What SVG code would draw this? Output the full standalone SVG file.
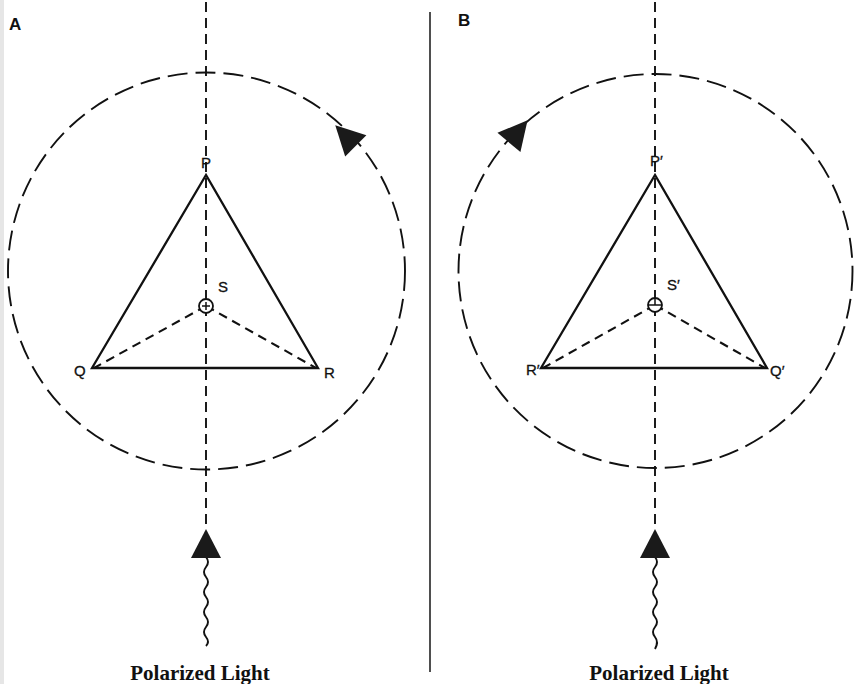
<svg xmlns="http://www.w3.org/2000/svg" xmlns:xlink="http://www.w3.org/1999/xlink" width="856" height="684" viewBox="0 0 856 684">
<style>
.solid{stroke:#111;stroke-width:2.3;fill:none;stroke-linecap:round}
.axis{stroke:#111;stroke-width:1.9;fill:none;stroke-dasharray:10 6}
.orbit{stroke:#111;stroke-width:1.9;fill:none;stroke-dasharray:20 8}
.spoke{stroke:#111;stroke-width:2.1;fill:none;stroke-dasharray:9 6}
.wave{stroke:#111;stroke-width:1.9;fill:none}
.lbl{font-family:"Liberation Sans",Arial,sans-serif;font-size:15px;fill:#111;stroke:#111;stroke-width:0.3}
.panel{font-family:"Liberation Sans",Arial,sans-serif;font-size:17px;font-weight:bold;fill:#111}
.cap{font-family:"Liberation Serif","Times New Roman",serif;font-size:21px;font-weight:bold;fill:#111;text-anchor:middle}
.head{fill:#1a1a1a}
</style>
<defs>
<polygon id="tri" points="0,-18 15,11 -15,11"/>
</defs>
<rect width="856" height="684" fill="#fff"/>
<rect x="0" y="0" width="4" height="684" fill="#e6e6e6"/>
<line x1="430" y1="12" x2="430" y2="672" stroke="#222" stroke-width="1.6"/>

<g id="panelA">
<text class="panel" x="9" y="30">A</text>
<g id="connectorsA">
<line class="axis" x1="206" y1="2" x2="206" y2="530"/>
<circle class="orbit" cx="206.5" cy="271" r="198.5"/>
<line class="spoke" x1="206" y1="306" x2="94" y2="368"/>
<line class="spoke" x1="206" y1="306" x2="316" y2="368"/>
<path class="wave" d="M206,557 q4,5 0,10 t0,10 t0,10 t0,10 t0,10 t0,10 t0,10 t0,10 t0,9"/>
<use href="#tri" class="head" transform="translate(348,138) rotate(-45)"/>
<use href="#tri" class="head" transform="translate(206,547)"/>
</g>
<g id="triA"><polygon class="solid" points="206,175 92,368 318,368"/></g>
<g id="S"><circle cx="206" cy="306" r="7" fill="#fff" stroke="#111" stroke-width="1.8"/><line x1="202" y1="306" x2="210" y2="306" stroke="#111" stroke-width="1.5"/><line x1="206" y1="302" x2="206" y2="310" stroke="#111" stroke-width="1.5"/>
<text class="lbl" x="218" y="292">S</text></g>
<g id="P"><text class="lbl" x="201" y="168">P</text></g>
<g id="Q"><text class="lbl" x="74" y="376">Q</text></g>
<g id="R"><text class="lbl" x="324" y="378">R</text></g>
<text class="cap" x="200" y="680">Polarized Light</text>
</g>

<g id="panelB">
<text class="panel" x="458" y="26">B</text>
<g id="connectorsB">
<line class="axis" x1="655" y1="2" x2="655" y2="530"/>
<circle class="orbit" cx="655.5" cy="271" r="197"/>
<line class="spoke" x1="655" y1="305" x2="543" y2="368"/>
<line class="spoke" x1="655" y1="305" x2="765" y2="368"/>
<path class="wave" d="M655,557 q4,5 0,10 t0,10 t0,10 t0,10 t0,10 t0,10 t0,10 t0,10 t0,12"/>
<use href="#tri" class="head" transform="translate(516,134) rotate(40)"/>
<use href="#tri" class="head" transform="translate(655,547)"/>
</g>
<g id="triB"><polygon class="solid" points="655,175 541,368 767,368"/></g>
<g id="Sp"><circle cx="655" cy="305" r="7" fill="#fff" stroke="#111" stroke-width="1.8"/><line x1="648" y1="305" x2="662" y2="305" stroke="#111" stroke-width="1.5"/><line x1="655" y1="298" x2="655" y2="305" stroke="#111" stroke-width="1.5"/>
<text class="lbl" x="667" y="290">S′</text></g>
<g id="Pp"><text class="lbl" x="650" y="166">P′</text></g>
<g id="Rp"><text class="lbl" x="526" y="375">R′</text></g>
<g id="Qp"><text class="lbl" x="770" y="376">Q′</text></g>
<text class="cap" x="659" y="680">Polarized Light</text>
</g>
</svg>
